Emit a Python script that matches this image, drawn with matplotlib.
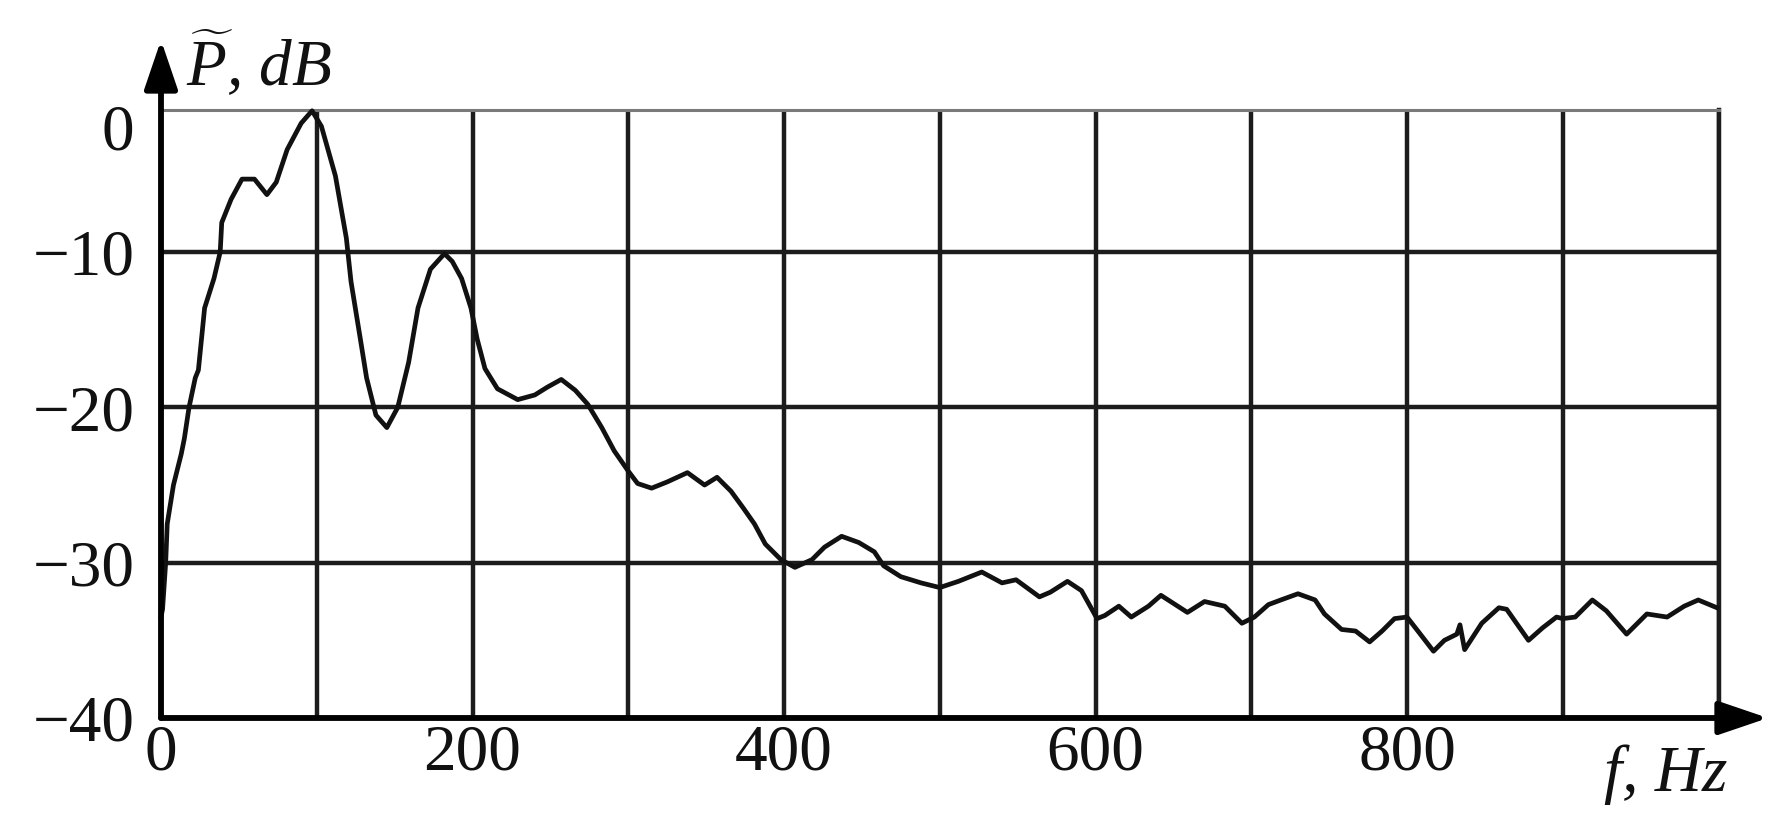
import matplotlib
matplotlib.use("Agg")
import matplotlib.pyplot as plt
from matplotlib.transforms import ScaledTranslation

plt.rcParams['font.family'] = ['Liberation Serif', 'DejaVu Serif']
plt.rcParams['mathtext.fontset'] = 'custom'
plt.rcParams['mathtext.rm'] = 'Liberation Serif'
plt.rcParams['mathtext.it'] = 'Liberation Serif:italic'

# ---- data ----
freq_hz = [0, 1, 3, 4, 8, 13, 15, 18, 22, 24, 28, 34, 38, 39, 45, 52, 60, 68, 74, 81,
           90, 97, 103, 112, 119, 122, 128, 132, 138, 145, 152, 159, 165, 173, 182,
           187, 193, 199, 203, 208, 216, 229, 240, 248, 257, 266, 274, 283, 291, 300,
           306, 315, 325, 338, 349, 357, 366, 374, 381, 388, 398, 407, 418, 426, 437,
           448, 458, 464, 475, 488, 500, 512, 527, 540, 549, 564, 571, 582, 591, 596,
           601, 606, 615, 623, 634, 642, 659, 670, 683, 694, 702, 711, 719, 730, 741,
           747, 758, 767, 776, 784, 792, 800, 807, 817, 824, 832, 834, 837, 848, 859,
           864, 878, 887, 896, 900, 908, 919, 928, 941, 954, 967, 978, 987, 999]
power_db = [-33.5, -33.0, -30.0, -27.5, -25.0, -23.0, -22.0, -20.0, -18.1, -17.6, -13.6,
            -11.7, -10.0, -8.1, -6.6, -5.3, -5.3, -6.3, -5.5, -3.4,
            -1.7, -0.9, -1.9, -5.1, -9.1, -11.9, -15.6, -18.1, -20.5, -21.3, -20.0,
            -17.1, -13.6, -11.1, -10.1,
            -10.6, -11.7, -13.6, -15.6, -17.5, -18.8, -19.5, -19.2, -18.7, -18.2,
            -18.9, -19.8, -21.3, -22.8, -24.1,
            -24.9, -25.2, -24.8, -24.2, -25.0, -24.5, -25.4, -26.5, -27.5, -28.8,
            -29.8, -30.3, -29.8, -29.0, -28.3,
            -28.7, -29.3, -30.2, -30.9, -31.3, -31.6, -31.2, -30.6, -31.3, -31.1,
            -32.2, -31.9, -31.2, -31.8, -32.7,
            -33.6, -33.4, -32.8, -33.5, -32.8, -32.1, -33.2, -32.5, -32.8, -33.9,
            -33.5, -32.7, -32.4, -32.0, -32.4,
            -33.3, -34.3, -34.4, -35.1, -34.4, -33.6, -33.5, -34.4, -35.7, -35.0,
            -34.6, -34.0, -35.6, -33.9, -32.9,
            -33.0, -35.0, -34.2, -33.5, -33.6, -33.5, -32.4, -33.1, -34.6, -33.3,
            -33.5, -32.8, -32.4, -32.9]

x_ticks = [0, 100, 200, 300, 400, 500, 600, 700, 800, 900, 1000]
x_tick_labels = ['0', '', '200', '', '400', '', '600', '', '800', '', '']
y_ticks = [-40, -30, -20, -10]
y_tick_labels = ['\u221240', '\u221230', '\u221220', '\u221210']
y_top_label = '0'
x_label = 'f, Hz'
y_label = r'$\widetilde{P}$, dB'

W, H = 1787, 824
fig = plt.figure(figsize=(W / 100, H / 100), dpi=100)
L, R, T, B = 161, 1718.5, 110, 718
ax = fig.add_axes([L / W, (H - B) / H, (R - L) / W, (B - T) / H])

ax.set_xlim(0, 1000)
ax.set_ylim(-40, -0.85)

grid_col = '#1c1c1c'
ax.set_xticks(x_ticks)
ax.set_xticklabels(x_tick_labels)
ax.set_yticks(y_ticks)
ax.set_yticklabels(y_tick_labels)
ax.tick_params(axis='both', length=0, labelsize=47, colors='#111111')
ax.tick_params(axis='x', pad=4)
ax.tick_params(axis='y', pad=19)
ax.grid(True, color=grid_col, lw=3.2)
ax.set_axisbelow(True)

for s in ['left', 'bottom']:
    ax.spines[s].set_visible(False)
ax.spines['right'].set_color(grid_col)
ax.spines['right'].set_linewidth(3.2)
ax.spines['top'].set_color('#7a7a7a')
ax.spines['top'].set_linewidth(2.2)

ax.plot(freq_hz, power_db, color='#111111', lw=3.4, zorder=5, clip_on=False,
        solid_joinstyle='round')

# axes with arrows
ap = dict(arrowstyle='-|>,head_length=1.0,head_width=0.34', color='black',
          lw=4.2, shrinkA=0, shrinkB=0, mutation_scale=30)
ax.annotate('', xy=(0, (B - 40) / (B - T)), xytext=(0, 0),
            xycoords='axes fraction', textcoords='axes fraction',
            arrowprops=ap, annotation_clip=False, zorder=6)
ax.annotate('', xy=((1768 - L) / (R - L), 0), xytext=(0, 0),
            xycoords='axes fraction', textcoords='axes fraction',
            arrowprops=ap, annotation_clip=False, zorder=6)

# top "0" label (sits slightly below the top frame line in the reference)
off = ScaledTranslation(-19 / 72, -24 / 100, fig.dpi_scale_trans)
ax.text(0, -0.85, y_top_label, transform=ax.get_yaxis_transform() + off,
        ha='right', va='center', fontsize=47, color='#111111')

ax.text((186 - L) / (R - L), (B - 85) / (B - T), y_label, transform=ax.transAxes,
        ha='left', va='baseline', fontsize=47, fontstyle='italic', color='#111111')
ax.text((1727 - L) / (R - L), (B - 775) / (B - T), x_label, transform=ax.transAxes,
        ha='right', va='center', fontsize=47, fontstyle='italic', color='#111111')

fig.savefig('out.png', dpi=100, facecolor='white')
